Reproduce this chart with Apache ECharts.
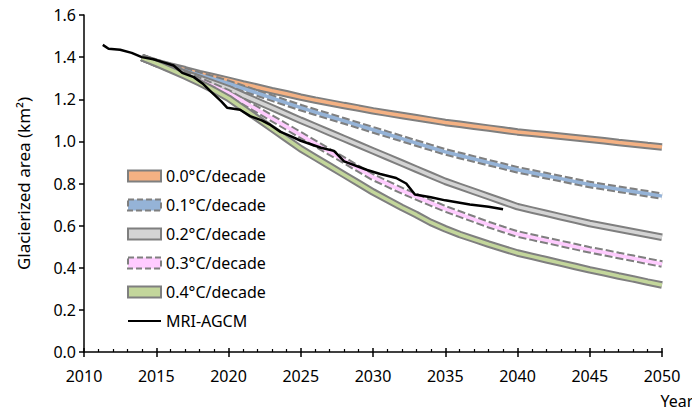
<!DOCTYPE html>
<html><head><meta charset="utf-8">
<script src="https://cdn.jsdelivr.net/npm/echarts@6/dist/echarts.min.js"></script>
<style>html,body{margin:0;padding:0;background:#fff}#c{width:692px;height:412px}</style>
</head><body><div id="c"></div>
<script>
// Scenario years
const years = [2014,2015,2016,2017,2018,2019,2020,2021,2022,2023,2024,2025,2026,2027,2028,2029,2030,2031,2032,2033,2034,2035,2036,2037,2038,2039,2040,2041,2042,2043,2044,2045,2046,2047,2048,2049,2050];
const s00 = [1.398,1.375,1.357,1.340,1.322,1.306,1.290,1.273,1.257,1.241,1.226,1.210,1.196,1.183,1.170,1.158,1.145,1.134,1.123,1.112,1.101,1.090,1.081,1.072,1.063,1.054,1.045,1.038,1.031,1.024,1.017,1.010,1.003,0.995,0.988,0.980,0.973];
const s01 = [1.398,1.375,1.355,1.334,1.314,1.295,1.275,1.252,1.229,1.206,1.183,1.160,1.139,1.118,1.097,1.076,1.055,1.034,1.013,0.992,0.971,0.950,0.933,0.916,0.899,0.882,0.865,0.851,0.837,0.823,0.809,0.795,0.784,0.773,0.762,0.751,0.740];
const s02 = [1.398,1.370,1.347,1.323,1.299,1.275,1.250,1.220,1.190,1.160,1.130,1.100,1.071,1.042,1.013,0.984,0.955,0.926,0.897,0.868,0.839,0.810,0.786,0.762,0.738,0.714,0.690,0.674,0.658,0.642,0.626,0.610,0.597,0.584,0.571,0.558,0.545];
const s03 = [1.398,1.370,1.343,1.316,1.289,1.260,1.230,1.190,1.150,1.110,1.070,1.030,0.990,0.950,0.910,0.870,0.830,0.798,0.766,0.737,0.708,0.680,0.655,0.630,0.605,0.582,0.560,0.545,0.530,0.515,0.500,0.485,0.472,0.458,0.445,0.431,0.418];
const s04 = [1.398,1.370,1.340,1.310,1.278,1.243,1.205,1.157,1.109,1.061,1.013,0.965,0.924,0.883,0.842,0.801,0.760,0.723,0.686,0.652,0.615,0.585,0.558,0.535,0.512,0.491,0.470,0.454,0.438,0.422,0.406,0.390,0.376,0.361,0.347,0.332,0.318];
// MRI-AGCM
const mriYears = [2011.3,2011.7,2012.5,2013.3,2014.0,2014.8,2015.5,2016.2,2016.8,2017.6,2018.2,2018.8,2019.5,2019.9,2020.8,2021.5,2022.3,2022.9,2023.6,2024.3,2025.0,2026.4,2027.3,2028.0,2029.6,2030.5,2031.6,2032.3,2032.9,2034.0,2035.0,2036.7,2038.0,2039.0];
const mriVals  = [1.458,1.440,1.435,1.420,1.400,1.390,1.375,1.360,1.325,1.305,1.275,1.235,1.190,1.160,1.150,1.120,1.100,1.078,1.045,1.025,1.003,0.970,0.955,0.905,0.864,0.845,0.826,0.800,0.748,0.735,0.720,0.700,0.690,0.678];
const names = ['0.0°C/decade','0.1°C/decade','0.2°C/decade','0.3°C/decade','0.4°C/decade'];
const mriName = 'MRI-AGCM';
const yTicks = ['0.0','0.2','0.4','0.6','0.8','1.0','1.2','1.4','1.6'];

const scen = [s00,s01,s02,s03,s04];
const fills = ['#F4B183','#95B3D7','#D4D4D4','#FFCCFF','#C3D69B'];
const dashed = [false,true,false,true,false];
const border = '#7F7F7F';
const FONT = 'Noto Sans';

const series = [];
scen.forEach((vals,i)=>{
  const d = years.map((y,k)=>[y, vals[k]]);
  series.push({type:'line', name:'_b'+i, data:d, symbol:'none', silent:true, animation:false,
    lineStyle:{color:border, width:7.5, type: dashed[i] ? [8,3] : 'solid'}});
  series.push({type:'line', name:names[i], data:d, symbol:'none', silent:true, animation:false,
    itemStyle:{color:fills[i]}, lineStyle:{color:fills[i], width:3.5}});
});
series.push({type:'line', name:mriName, data:mriYears.map((y,k)=>[y,mriVals[k]]), symbol:'none', animation:false,
  itemStyle:{color:'#000'}, lineStyle:{color:'#000', width:2.5}});

const chart = echarts.init(document.getElementById('c'), null, {renderer:'svg'});
chart.setOption({
  animation:false,
  textStyle:{fontFamily:FONT},
  grid:{left:84, right:30, top:15, bottom:60, containLabel:false, outerBoundsMode:'none'},
  legend:{
    orient:'vertical', left:127, top:167, padding:0, itemWidth:33, itemHeight:11, itemGap:11, selectedMode:false,
    symbolKeepAspect:true,
    textStyle:{fontFamily:FONT, fontSize:16, color:'#000', lineHeight:18},
    data: names.map((n,i)=>({name:n, icon:'rect', itemStyle:{color:fills[i], borderColor:border, borderWidth:2, borderType: dashed[i]?[6,3]:'solid'}}))
      .concat([{name:mriName, icon:'path://M0,0H33V2.2H0Z', itemStyle:{color:'#000', borderWidth:0}}])
  },
  xAxis:[{
    type:'value', min:2010, max:2050, interval:5, position:'bottom',
    axisLine:{show:true, onZero:false, lineStyle:{color:'#000', width:1.5}},
    axisTick:{show:true, length:5, lineStyle:{color:'#000', width:1.5}},
    axisLabel:{fontFamily:FONT, fontSize:16, color:'#000', margin:16, formatter:v=>String(v)},
    splitLine:{show:false},
    name:'Year', nameLocation:'end', nameGap:15,
    nameTextStyle:{fontFamily:FONT, fontSize:16, color:'#000', align:'center', verticalAlign:'top', padding:[41,0,0,0]}
  },{
    type:'value', min:2010, max:2050, interval:5, position:'bottom',
    axisLine:{show:false, onZero:false},
    axisTick:{show:true, inside:true, length:4, lineStyle:{color:'#000', width:1.5}},
    minorTick:{show:true, splitNumber:5, length:3, lineStyle:{color:'#000', width:1.2}},
    axisLabel:{show:false}, splitLine:{show:false}
  }],
  yAxis:{
    type:'value', min:0, max:1.6, interval:0.2,
    axisLine:{show:true, lineStyle:{color:'#000', width:1.5}},
    axisTick:{show:true, length:5, lineStyle:{color:'#000', width:1.5}},
    axisLabel:{fontFamily:FONT, fontSize:16, color:'#000', margin:8, formatter:v=>yTicks[Math.round(v/0.2)]},
    splitLine:{show:false},
    name:'Glacierized area (km²)', nameLocation:'middle', nameGap:52,
    nameTextStyle:{fontFamily:FONT, fontSize:17, color:'#000'}
  },
  series: series
});
</script></body></html>
